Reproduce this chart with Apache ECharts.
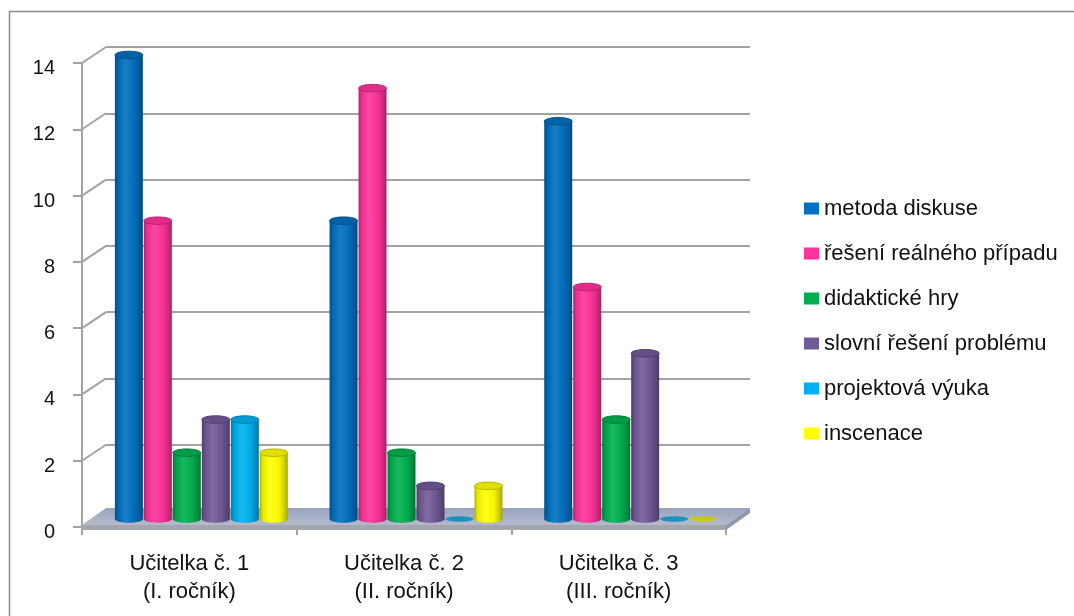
<!DOCTYPE html>
<html>
<head>
<meta charset="utf-8">
<script src="https://cdn.jsdelivr.net/npm/echarts@6/dist/echarts.min.js"></script>
<style>
  html, body { margin: 0; padding: 0; background: #ffffff; }
  #chart { width: 1074px; height: 616px; }
</style>
</head>
<body>
<div id="chart"></div>
<script>
// ---- data ----
const categories = ['Učitelka č. 1\n(I. ročník)', 'Učitelka č. 2\n(II. ročník)', 'Učitelka č. 3\n(III. ročník)'];
const seriesNames = ['metoda diskuse', 'řešení reálného případu', 'didaktické hry', 'slovní řešení problému', 'projektová výuka', 'inscenace'];
const metodaDiskuse   = [14, 9, 12];
const reseniPripadu   = [9, 13, 7];
const didaktickeHry   = [2, 2, 3];
const slovniReseni    = [3, 1, 5];
const projektovaVyuka = [3, 0, 0];
const inscenace       = [2, 1, 0];
const yTicks = [0, 2, 4, 6, 8, 10, 12, 14];

// ---- styling / layout ----
const seriesValues = [metodaDiskuse, reseniPripadu, didaktickeHry, slovniReseni, projektovaVyuka, inscenace];
const colors = ['#0070c0', '#ff3399', '#00b050', '#725a98', '#00b0f0', '#ffff00'];
const FONT = 'Liberation Sans';
const FRONT = { left: 82, right: 348, top: 63, bottom: 89 };   // front plane (axis labels)
const DX = 24, DY = 16;                                          // depth offset of the back wall
const BAR_FRACTION = 0.135;                                      // cylinder width / category width

function shade(hex, amt) {
  const n = parseInt(hex.slice(1), 16);
  let r = (n >> 16) & 255, g = (n >> 8) & 255, b = n & 255;
  const f = c => amt < 0 ? Math.round(c * (1 + amt)) : Math.round(c + (255 - c) * amt);
  return 'rgb(' + f(r) + ',' + f(g) + ',' + f(b) + ')';
}

function bodyGradient(c) {
  return new echarts.graphic.LinearGradient(0, 0, 1, 0, [
    { offset: 0, color: shade(c, -0.30) },
    { offset: 0.12, color: shade(c, -0.08) },
    { offset: 0.38, color: shade(c, 0.10) },
    { offset: 0.70, color: shade(c, -0.04) },
    { offset: 0.90, color: shade(c, -0.22) },
    { offset: 1, color: shade(c, -0.35) }
  ]);
}

function cylinderRenderer(sIdx) {
  const c = colors[sIdx];
  return function (params, api) {
    const cat = api.value(0), val = api.value(1);
    const base = api.coord([cat, 0]);
    const top = api.coord([cat, val]);
    const band = api.size([1, 0])[0];
    const w = band * BAR_FRACTION;
    const cx = base[0] + (sIdx - 2.5) * w;
    const rx = w / 2 - 0.5, ry = w * 0.13;
    const children = [];
    if (val > 0) {
      children.push({ type: 'ellipse', shape: { cx: cx, cy: base[1], rx: rx, ry: ry }, style: { fill: bodyGradient(c) } });
      children.push({ type: 'rect', shape: { x: cx - rx, y: top[1], width: 2 * rx, height: base[1] - top[1] }, style: { fill: bodyGradient(c) } });
      children.push({ type: 'ellipse', shape: { cx: cx, cy: top[1], rx: rx, ry: ry },
        style: { fill: shade(c, -0.12), stroke: shade(c, -0.28), lineWidth: 1 } });
    } else {
      children.push({ type: 'ellipse', shape: { cx: cx, cy: base[1], rx: rx, ry: ry * 0.75 },
        style: { fill: shade(c, -0.20), opacity: 0.85 } });
    }
    return { type: 'group', children: children };
  };
}

// floor slab drawn on the back plane, extended toward the front plane
function floorRenderer(params, api) {
  const cs = params.coordSys;
  const y0 = api.coord([0, 0])[1];
  const bl = cs.x, br = cs.x + cs.width;
  const yb = y0 - 3, yf = y0 + DY - 2, th = 5;
  return {
    type: 'group',
    children: [
      { type: 'polygon', shape: { points: [[bl, yb], [br, yb], [br - DX, yf], [bl - DX, yf]] },
        style: { fill: new echarts.graphic.LinearGradient(0, 0, 0, 1, [
          { offset: 0, color: '#98a4bf' }, { offset: 1, color: '#b4bacb' }]) } },
      { type: 'polygon', shape: { points: [[br, yb], [br, yb + th], [br - DX, yf + th], [br - DX, yf]] },
        style: { fill: '#8e98ac' } },
      { type: 'rect', shape: { x: bl - DX, y: yf, width: br - bl, height: th },
        style: { fill: '#a3a6ad' } }
    ]
  };
}

// side-wall connectors from the front axis ticks to the back gridlines
function connectorRenderer(params, api) {
  const cs = params.coordSys;
  const y = api.coord([0, api.value(1)])[1];
  return { type: 'line', shape: { x1: cs.x, y1: y, x2: cs.x + DX, y2: y - DY },
    style: { stroke: '#a3a3a3', lineWidth: 2 } };
}

const chart = echarts.init(document.getElementById('chart'), null, { renderer: 'canvas' });

const grids = [
  // 0: front plane
  { left: FRONT.left, right: FRONT.right, top: FRONT.top, bottom: FRONT.bottom },
  // 1: back wall
  { left: FRONT.left + DX, right: FRONT.right - DX, top: FRONT.top - DY, bottom: FRONT.bottom + DY },
  // 2: cylinder plane (mid depth)
  { left: FRONT.left + DX / 2, right: FRONT.right - DX / 2, top: FRONT.top - DY / 2, bottom: FRONT.bottom + DY / 2 }
];

const series = [
  { type: 'custom', name: 'floor', xAxisIndex: 1, yAxisIndex: 1, data: [[0, 0]], renderItem: floorRenderer,
    z: 2, silent: true, legendHoverLink: false },
  { type: 'custom', name: 'connectors', xAxisIndex: 0, yAxisIndex: 0, data: yTicks.map(v => [0, v]),
    renderItem: connectorRenderer, z: 1, silent: true }
];
seriesNames.forEach((name, i) => {
  series.push({
    type: 'custom', name: name, xAxisIndex: 2, yAxisIndex: 2, z: 5,
    itemStyle: { color: colors[i] },
    data: seriesValues[i].map((v, k) => [k, v]),
    renderItem: cylinderRenderer(i)
  });
});

chart.setOption({
  animation: false,
  backgroundColor: '#ffffff',
  textStyle: { fontFamily: FONT },
  graphic: [{
    type: 'rect', z: -10, silent: true,
    shape: { x: 9.5, y: 11.5, width: 1200, height: 800 },
    style: { fill: null, stroke: '#8c8c8c', lineWidth: 1.5 }
  }],
  grid: grids,
  legend: {
    data: seriesNames,
    orient: 'vertical', left: 799, top: 192,
    itemWidth: 15, itemHeight: 12, itemGap: 22,
    icon: 'rect',
    textStyle: { fontFamily: FONT, fontSize: 22, lineHeight: 23, color: '#111' }
  },
  xAxis: [
    { gridIndex: 0, type: 'category', data: categories, boundaryGap: true,
      axisLine: { show: true, lineStyle: { color: '#a3a3a3', width: 2 } },
      axisTick: { show: true, length: 8, lineStyle: { color: '#a3a3a3', width: 2 } },
      axisLabel: { interval: 0, margin: 23, fontSize: 22, lineHeight: 28, color: '#111', fontFamily: FONT } },
    { gridIndex: 1, type: 'category', data: categories, show: false },
    { gridIndex: 2, type: 'category', data: categories, show: false }
  ],
  yAxis: [
    { gridIndex: 0, type: 'value', min: 0, max: 14, interval: 2,
      axisLine: { show: true, lineStyle: { color: '#a3a3a3', width: 2 } },
      axisTick: { show: true, length: 9, lineStyle: { color: '#a3a3a3', width: 2 } },
      splitLine: { show: false },
      axisLabel: { margin: 27, fontSize: 20, color: '#111', fontFamily: FONT, verticalAlign: 'top', lineHeight: 11 } },
    { gridIndex: 1, type: 'value', min: 0, max: 14, interval: 2,
      axisLine: { show: false }, axisTick: { show: false }, axisLabel: { show: false },
      splitLine: { show: true, lineStyle: { color: '#a3a3a3', width: 2 } } },
    { gridIndex: 2, type: 'value', min: 0, max: 14, interval: 2, show: false, splitLine: { show: false } }
  ],
  series: series
});
</script>
</body>
</html>
